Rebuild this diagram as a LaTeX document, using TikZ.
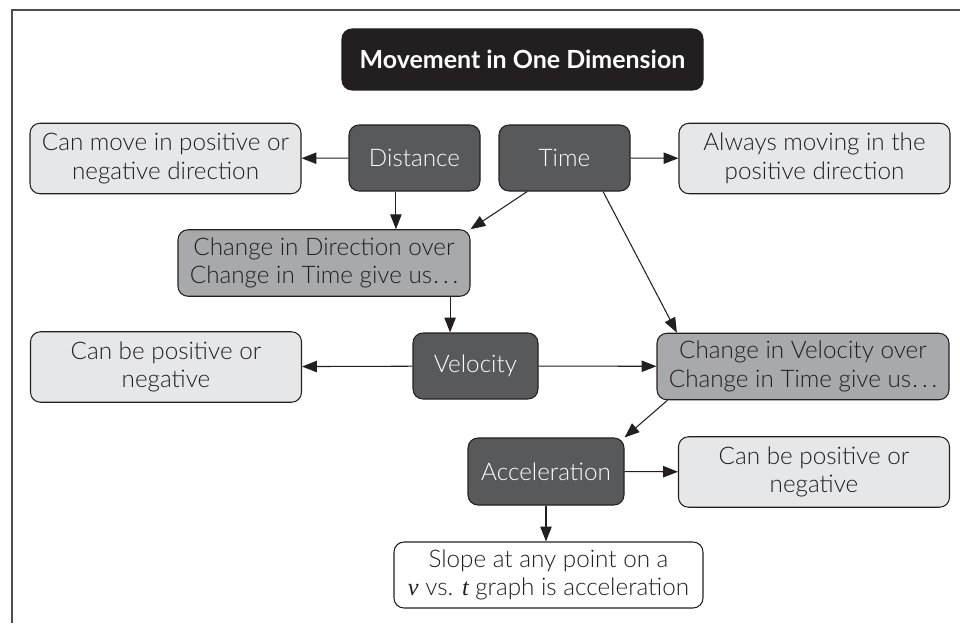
\documentclass[tikz,border=0pt]{standalone}
\usepackage{fontspec}
\setmainfont{Lato}[UprightFont=* Light, BoldFont=* Bold]
\newfontfamily\varfont{Liberation Serif}
\usepackage{xcolor}
\usetikzlibrary{arrows.meta}
\definecolor{inkblack}{HTML}{231F20}
\definecolor{darkbox}{HTML}{58595B}
\definecolor{midbox}{HTML}{A7A9AC}
\definecolor{lightbox}{HTML}{E6E7E8}
\newcommand{\spdots}{\kern0.05em.\kern0.16em.\kern0.16em.}
\tikzstyle{base}=[draw=inkblack, line width=0.6pt, rounded corners=0.2cm, align=center, inner sep=0pt, font=\fontsize{13.8}{16.4}\selectfont]
\tikzstyle{title}=[base, fill=inkblack, text=white, font=\fontsize{14.2}{16.4}\selectfont\bfseries, minimum width=7.22cm, minimum height=1.22cm]
\tikzstyle{dark}=[base, fill=darkbox, text=white, minimum height=1.32cm]
\tikzstyle{mid}=[base, fill=midbox, text=inkblack, minimum width=5.84cm, minimum height=1.33cm]
\tikzstyle{light}=[base, fill=lightbox, text=inkblack, minimum width=5.42cm, minimum height=1.41cm]
\tikzstyle{plain}=[base, fill=white, text=inkblack, minimum width=6.18cm, minimum height=1.32cm]
\tikzstyle{arrow edge}=[-{Triangle[length=8.5pt, width=6.5pt]}, draw=inkblack, line width=0.6pt]
\pgfdeclarelayer{nodelayer}
\pgfdeclarelayer{edgelayer}
\pgfsetlayers{main,nodelayer,edgelayer}

\begin{document}
\begin{tikzpicture}
	\useasboundingbox (0, 0) rectangle (19.2, 12.46);
	\draw [draw=inkblack!80, line width=0.9pt] (0.24, 0) -- (0.24, 12.26) -- (19.2, 12.26);
	\begin{pgfonlayer}{nodelayer}
		\node [style=title] (title) at (10.45, 11.27) {Movement in One Dimension};
		\node [style=light] (movenote) at (3.31, 9.29) {Can move in positive or\\negative direction};
		\node [style=dark, minimum width=2.62cm] (distance) at (8.29, 9.3) {Distance};
		\node [style=dark, minimum width=2.62cm] (time) at (11.29, 9.3) {Time};
		\node [style=light] (timenote) at (16.29, 9.29) {Always moving in the\\positive direction};
		\node [style=mid] (dxdt) at (6.48, 7.2) {Change in Direction over\\Change in Time give us\spdots};
		\node [style=light] (velnote) at (3.32, 5.12) {Can be positive or\\negative};
		\node [style=dark, minimum width=2.5cm] (velocity) at (9.51, 5.14) {Velocity};
		\node [style=mid] (dvdt) at (16.06, 5.13) {Change in Velocity over\\Change in Time give us\spdots};
		\node [style=dark, minimum width=3.12cm, minimum height=1.34cm] (accel) at (10.92, 3.03) {Acceleration};
		\node [style=light] (accnote) at (16.28, 3.02) {Can be positive or\\negative};
		\node [style=plain] (slope) at (10.97, 0.96) {Slope at any point on a\\{\varfont\itshape v} vs. {\varfont\itshape t} graph is acceleration};
	\end{pgfonlayer}
	\begin{pgfonlayer}{edgelayer}
		\draw [style=arrow edge] (distance) to (movenote);
		\draw [style=arrow edge] (distance.241) to (distance.241 |- dxdt.north);
		\draw [style=arrow edge] (time.222) to (dxdt.north east);
		\draw [style=arrow edge] (time) to (timenote);
		\draw [style=arrow edge] (time.319) to (dvdt.165);
		\draw [style=arrow edge] (dxdt.345) to (dxdt.345 |- velocity.north);
		\draw [style=arrow edge] (velocity) to (velnote);
		\draw [style=arrow edge] (velocity) to (dvdt);
		\draw [style=arrow edge] (dvdt.194) to (accel.north east);
		\draw [style=arrow edge] (accel) to (accnote);
		\draw [style=arrow edge] (accel.south) to (accel.south |- slope.north);
	\end{pgfonlayer}
\end{tikzpicture}
\end{document}
